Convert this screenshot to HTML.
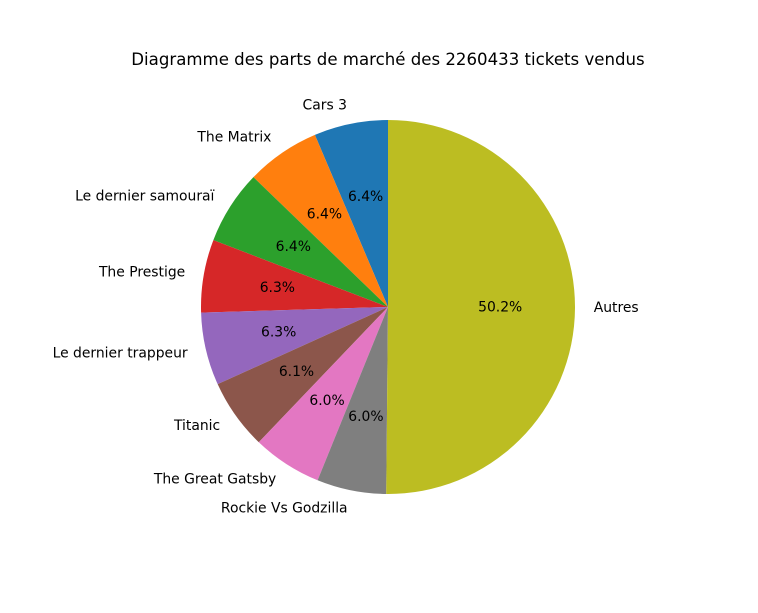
<!DOCTYPE html>
<html><head><meta charset="utf-8"><style>
body{margin:0;background:#fff}
svg text{font-family:"DejaVu Sans","Liberation Sans",sans-serif;font-size:13.9px;fill:#000}
</style></head><body>
<svg id="chart" width="758" height="608" viewBox="0 0 758 608">
<rect width="758" height="608" fill="#fff"/>
<text x="388" y="65" text-anchor="middle" style="font-size:16.6px">Diagramme des parts de marché des 2260433 tickets vendus</text>
<g id="slices"></g>
</svg>
<script>
const categories=["Cars 3","The Matrix","Le dernier samouraï","The Prestige","Le dernier trappeur","Titanic","The Great Gatsby","Rockie Vs Godzilla","Autres"];
const values=[6.4,6.4,6.4,6.3,6.3,6.1,6.0,6.0,50.2];
const pctLabels=["6.4%","6.4%","6.4%","6.3%","6.3%","6.1%","6.0%","6.0%","50.2%"];
const colors=["#1f77b4","#ff7f0e","#2ca02c","#d62728","#9467bd","#8c564b","#e377c2","#7f7f7f","#bcbd22"];
const cx=388,cy=307,r=187;
const g=document.getElementById('slices');
const NS="http://www.w3.org/2000/svg";
const total=values.reduce((a,b)=>a+b,0);
let a0=90;
const pt=(deg,rr)=>[cx+rr*Math.cos(deg*Math.PI/180),cy-rr*Math.sin(deg*Math.PI/180)];
values.forEach((v,i)=>{
  const sweep=v/total*360,a1=a0+sweep;
  const [x0,y0]=pt(a0,r),[x1,y1]=pt(a1,r);
  const p=document.createElementNS(NS,'path');
  p.setAttribute('d',`M${cx},${cy}L${x0},${y0}A${r},${r} 0 ${sweep>180?1:0} 0 ${x1},${y1}Z`);
  p.setAttribute('fill',colors[i]);
  
  
  g.appendChild(p);
  const mid=(a0+a1)/2;
  const [lx,ly]=pt(mid,r*1.1);
  const t=document.createElementNS(NS,'text');
  t.setAttribute('x',lx);t.setAttribute('y',ly+4);
  t.setAttribute('text-anchor',Math.cos(mid*Math.PI/180)<0?'end':'start');
  t.textContent=categories[i];
  
  
  g.appendChild(t);
  const [px,py]=pt(mid,r*0.6);
  const t2=document.createElementNS(NS,'text');
  t2.setAttribute('x',px);t2.setAttribute('y',py+4);
  t2.setAttribute('text-anchor','middle');
  t2.textContent=pctLabels[i];
  
  
  g.appendChild(t2);
  a0=a1;
});
</script>
</body></html>
